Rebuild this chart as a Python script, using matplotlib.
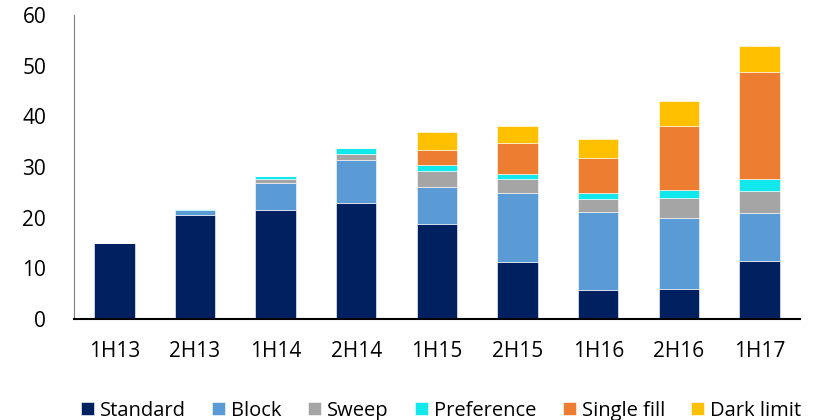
import numpy as np
import matplotlib.pyplot as plt

# ------------------------------
# DATA
# ------------------------------
periods = ["1H13", "2H13", "1H14", "2H14", "1H15", "2H15", "1H16", "2H16", "1H17"]

standard = [15.0, 20.5, 21.5, 23.0, 18.8, 11.3, 5.8, 6.0, 11.5]
block = [0.0, 1.1, 5.4, 8.4, 7.3, 13.5, 15.3, 14.0, 9.4]
sweep = [0.0, 0.0, 0.7, 1.1, 3.2, 2.8, 2.5, 3.8, 4.3]
preference = [0.0, 0.2, 0.7, 1.2, 1.1, 1.0, 1.3, 1.7, 2.4]
single_fill = [0.0, 0.0, 0.0, 0.0, 2.9, 6.2, 6.9, 12.7, 21.1]
dark_limit = [0.0, 0.0, 0.0, 0.0, 3.6, 3.3, 3.8, 4.9, 5.2]

series_names = ["Standard", "Block", "Sweep", "Preference", "Single fill", "Dark limit"]
colors = ["#002060", "#5B9BD5", "#A5A5A5", "#10E8EC", "#ED7D31", "#FFC000"]

# ------------------------------
# PLOT
# ------------------------------
plt.rcParams['font.family'] = ['Open Sans', 'DejaVu Sans']

fig = plt.figure(figsize=(8.17, 4.2), dpi=100)
ax = fig.add_axes([0.0906, 0.2405, 0.8884, 0.7235])

x = np.arange(len(periods))
bottom = np.zeros(len(periods))
for name, vals, c in zip(series_names, [standard, block, sweep, preference, single_fill, dark_limit], colors):
    vals = np.array(vals)
    ax.bar(x, vals, 0.5, bottom=bottom, color=c, label=name,
           edgecolor="white", linewidth=0.4)
    bottom += vals

ax.set_xlim(-0.5, len(periods) - 0.5)
ax.set_ylim(0, 60)
ax.set_yticks(range(0, 61, 10))
ax.set_xticks(x)
ax.set_xticklabels(periods)

ax.spines['top'].set_visible(False)
ax.spines['right'].set_visible(False)
ax.spines['left'].set_color("#7f7f7f")
ax.spines['bottom'].set_linewidth(1.5)
ax.tick_params(axis='y', length=0, pad=20, labelsize=15)
ax.tick_params(axis='x', length=0, pad=16, labelsize=15)

fig.legend(loc="lower center", bbox_to_anchor=(0.54, -0.045), ncol=6, frameon=False,
           fontsize=14.5, handlelength=0.65, handleheight=0.65, handletextpad=0.3,
           columnspacing=1.3)

fig.savefig("out.png", dpi=100)
